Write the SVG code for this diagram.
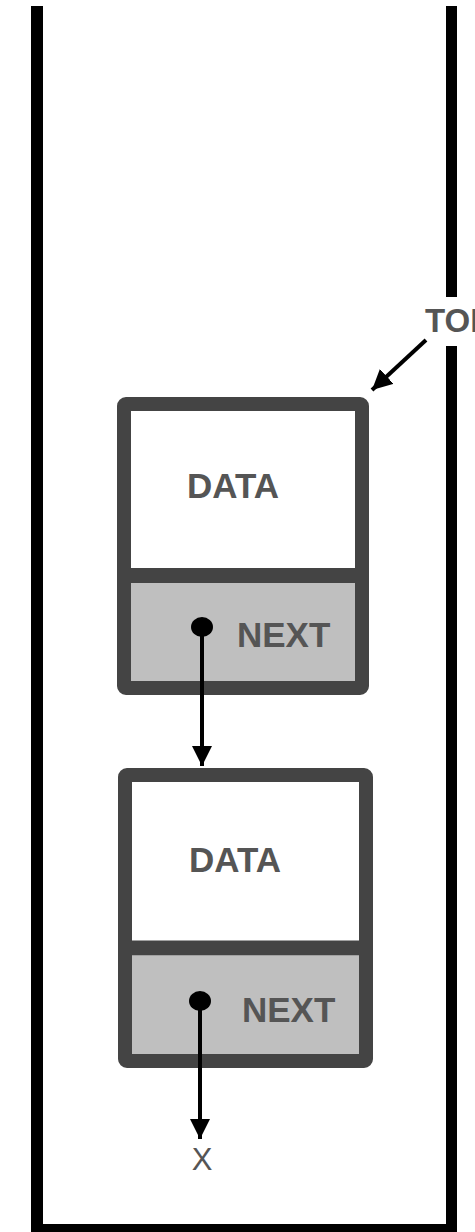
<svg xmlns="http://www.w3.org/2000/svg" width="475" height="1232" viewBox="0 0 475 1232">
  <style>
    .wall { fill: #000; }
    .box { fill: #fff; stroke: #444; stroke-width: 14; stroke-linejoin: round; }
    .next { fill: #bfbfbf; }
    .div { stroke: #444; stroke-width: 15; }
    .lbl { font-family: "Liberation Sans", Arial, sans-serif; font-weight: bold; fill: #555; }
    .conn { stroke: #000; stroke-width: 4; fill: none; }
  </style>
  <defs>
    <marker id="ah" viewBox="0 0 10 10" refX="10" refY="5" markerWidth="5" markerHeight="5" markerUnits="strokeWidth" orient="auto">
      <path d="M0,0 L10,5 L0,10 Z" fill="#000"/>
    </marker>
  </defs>
  <rect width="475" height="1232" fill="#fff"/>

  <g id="stack">
    <rect class="wall" x="31" y="6" width="12" height="1226"/>
    <rect class="wall" x="446" y="6" width="11" height="291"/>
    <rect class="wall" x="446" y="346" width="11" height="886"/>
    <rect class="wall" x="31" y="1224" width="426" height="8"/>
  </g>

  <g id="top-label">
    <text class="lbl" x="425" y="332" font-size="33">TOP</text>
  </g>

  <g id="node1">
    <rect class="box" x="124" y="404" width="238" height="284" rx="2"/>
    <rect class="next" x="131" y="583" width="224" height="98"/>
    <line class="div" x1="131" y1="575.5" x2="355" y2="575.5"/>
    <text class="lbl" x="233" y="498" font-size="35" text-anchor="middle">DATA</text>
    <text class="lbl" x="237" y="647" font-size="35">NEXT</text>
    <ellipse cx="202" cy="627" rx="11" ry="10" fill="#000"/>
  </g>

  <g id="node2">
    <rect class="box" x="125" y="775" width="241" height="286" rx="2"/>
    <rect class="next" x="132" y="956" width="227" height="98"/>
    <line class="div" x1="132" y1="948" x2="359" y2="948"/>
    <text class="lbl" x="235" y="872" font-size="35" text-anchor="middle">DATA</text>
    <text class="lbl" x="242" y="1022" font-size="35">NEXT</text>
    <ellipse cx="200" cy="1001" rx="11" ry="10" fill="#000"/>
  </g>

  <g id="null">
    <text x="202" y="1170" font-family="Liberation Sans, Arial, sans-serif" font-size="31" fill="#555" text-anchor="middle">X</text>
  </g>

  <g id="connectors">
    <line class="conn" x1="426" y1="340" x2="372" y2="390" stroke-width="5" marker-end="url(#ah)"/>
    <line class="conn" x1="202" y1="627" x2="202" y2="766" marker-end="url(#ah)"/>
    <line class="conn" x1="200" y1="1001" x2="200" y2="1139" marker-end="url(#ah)"/>
  </g>
</svg>
